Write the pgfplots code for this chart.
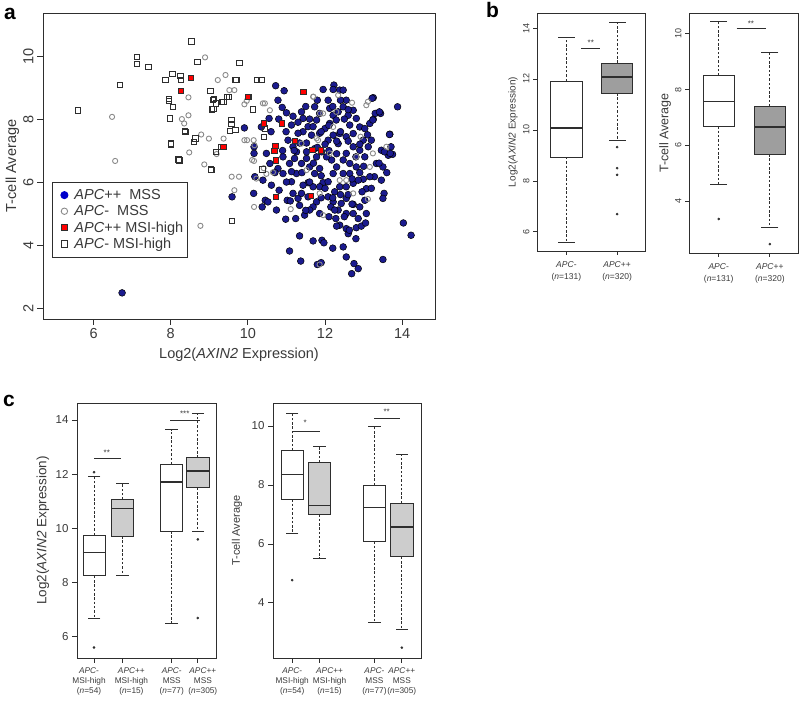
\documentclass[border=0pt]{standalone}
\usepackage{fontspec}
\setmainfont{Liberation Sans}
\usepackage{pgfplots}
\pgfplotsset{compat=1.18}
\usepgfplotslibrary{statistics}
\definecolor{navyb}{HTML}{1B1B8F}
\definecolor{txt}{HTML}{3A3A3A}
\definecolor{grayc}{HTML}{8A8A8A}
\definecolor{boxb}{HTML}{9E9E9E}
\definecolor{boxc}{HTML}{CDCDCD}
\definecolor{axc}{HTML}{2E2E2E}
\newcommand{\tlab}[5]{\hspace*{#1}\begin{tabular}{@{}c@{}}#3\\#4\\#5\end{tabular}\hspace*{#2}}

\pgfplotsset{
  Rbase/.style={scale only axis, axis line style={line width=0.8pt, draw=axc},
    tick align=outside, tick pos=left, major tick length=5pt,
    tick style={line width=0.8pt, draw=axc},
    /pgf/number format/assume math mode=true,
    ticklabel style={text=txt}, label style={text=txt}},
  RboxW/.style={draw=axc, line width=0.8pt,
    boxplot/draw direction=y,
    boxplot/every median/.style={line width=1.6pt},
    boxplot/every whisker/.style={dash pattern=on 2.5pt off 1.8pt},
    boxplot/every box/.style={fill=white}},
  RboxB/.style={RboxW, boxplot/every box/.style={fill=boxb}},
  RboxC/.style={RboxW, boxplot/every box/.style={fill=boxc}},
  outl/.style={only marks, mark=*, mark size=1.1pt, color=axc},
  caps/.style={only marks, mark=-, mark size=#1, mark options={line width=0.8pt, draw=axc}},
}

\begin{document}
\begin{tikzpicture}
\path[use as bounding box] (0,0) rectangle (800pt,701pt);

% panel labels
\node[font=\fontsize{21}{21}\selectfont\bfseries, anchor=base west, inner sep=0pt] at (4pt,681pt) {a};
\node[font=\fontsize{21}{21}\selectfont\bfseries, anchor=base west, inner sep=0pt] at (486pt,683pt) {b};
\node[font=\fontsize{21}{21}\selectfont\bfseries, anchor=base west, inner sep=0pt] at (3pt,294pt) {c};

% ---------------- panel a ----------------
\begin{axis}[Rbase, at={(43pt,382pt)}, anchor=south west, width=392pt, height=306pt,
  xmin=4.69, xmax=14.85, ymin=1.65, ymax=11.37,
  xtick={6,8,10,12,14}, ytick={2,4,6,8,10}, major tick length=6pt,
  ticklabel style={font=\fontsize{14.5}{16}\selectfont},
  yticklabel style={rotate=90, anchor=south},
  xlabel={Log2(\textit{AXIN2} Expression)}, ylabel={T-cell Average},
  label style={font=\fontsize{14.5}{16}\selectfont},
  xlabel style={at={(axis description cs:0.5,-0.118)}, anchor=center},
  ylabel style={at={(axis description cs:-0.078,0.5)}, anchor=center},
  legend style={at={(axis description cs:0.023,0.448)}, anchor=north west, draw=axc,
    line width=0.8pt, font=\fontsize{14.5}{16}\selectfont, text=txt,
    cells={anchor=west}, row sep=0.5pt, inner xsep=2pt, inner ysep=5pt},
  legend image code/.code={\path[draw=none, fill=none] (0pt,0pt) -- (18pt,0pt); \draw[#1] plot coordinates {(10pt,0pt)};},
]
\addlegendimage{only marks, mark=*, mark size=3.6pt, mark options={fill=blue!80!black, draw=blue!80!black}}
\addlegendentry{\textit{APC}++\ \ MSS}
\addlegendimage{only marks, mark=o, mark size=3.2pt, mark options={draw=grayc, line width=0.9pt}}
\addlegendentry{\textit{APC}-\ \ MSS}
\addlegendimage{only marks, mark=square*, mark size=3.2pt, mark options={fill=red, draw=axc, line width=0.9pt}}
\addlegendentry{\textit{APC}++ MSI-high}
\addlegendimage{only marks, mark=square, mark size=3.2pt, mark options={draw=axc, line width=0.9pt}}
\addlegendentry{\textit{APC}- MSI-high}

% APC++ MSS
\addplot[forget plot, only marks, mark=*, mark size=3.4pt, mark options={fill=navyb, draw=black, line width=0.5pt}] table {
6.74 2.48
9.59 5.53
9.91 7.72
10.72 9.06
10.94 8.90
10.78 8.60
10.89 8.37
10.55 8.02
10.35 7.75
10.16 7.12
10.16 6.91
10.18 6.17
10.39 6.06
10.15 5.64
10.37 5.21
10.45 5.42
10.52 5.37
10.74 5.11
10.98 4.82
11.24 4.84
11.34 4.29
11.08 3.81
11.37 3.49
11.69 4.13
11.92 4.15
11.97 4.07
11.80 3.38
11.90 3.44
12.38 4.63
12.55 4.52
12.47 3.94
12.55 3.62
12.60 4.36
12.63 4.47
12.69 3.09
12.86 3.25
12.75 3.41
12.81 4.55
12.94 4.60
13.05 4.70
13.50 3.54
14.03 4.70
14.23 4.31
13.88 8.39
13.25 8.68
13.30 8.18
13.44 8.18
13.25 7.99
13.68 7.52
13.71 7.12
13.75 6.88
13.64 6.85
13.46 7.01
13.50 6.48
13.46 6.06
13.53 5.64
13.50 5.48
13.33 6.59
13.28 6.17
12.99 6.09
13.07 5.79
12.96 5.69
13.03 5.42
13.07 5.00
12.90 5.21
12.73 5.29
12.55 5.48
12.42 5.32
12.34 5.11
12.28 4.84
12.21 5.37
12.08 5.53
12.15 5.21
11.95 5.98
11.78 5.37
11.69 5.21
11.60 5.11
11.86 5.00
11.47 4.95
11.34 5.26
11.30 5.48
11.39 5.64
11.17 5.64
11.02 5.42
10.81 5.74
10.61 5.90
11.13 6.01
11.26 6.27
10.91 6.27
10.78 6.43
10.57 6.59
10.48 6.91
10.91 6.80
11.08 6.59
11.21 6.75
11.39 6.59
11.52 6.75
11.60 6.48
11.73 6.27
11.86 6.43
11.56 5.98
11.43 5.90
11.17 7.12
11.04 7.33
10.99 7.60
11.13 7.81
11.17 8.09
11.39 8.23
11.43 8.02
11.56 7.76
11.43 7.60
11.30 7.55
11.34 7.24
11.52 7.24
11.65 7.49
11.78 7.97
11.73 8.39
11.95 8.94
12.23 9.08
12.21 8.94
12.38 8.92
12.47 8.92
12.08 8.60
12.55 8.60
12.73 8.28
12.60 8.12
12.34 8.23
12.21 8.12
12.29 7.97
12.12 7.86
12.00 7.70
11.86 7.55
12.08 7.33
12.21 7.49
12.38 7.54
12.34 7.22
12.55 7.44
12.73 7.54
12.90 7.75
13.03 7.70
12.99 7.33
13.12 7.12
12.90 7.01
12.73 7.12
12.55 6.91
12.47 6.70
12.64 6.59
12.81 6.48
12.64 6.27
12.47 6.27
12.30 6.48
12.17 6.70
12.04 6.80
11.91 6.96
11.73 7.06
11.78 6.80
12.21 6.27
12.38 5.85
12.55 5.85
12.73 5.96
12.25 5.69
12.08 6.01
11.86 5.85
11.69 5.85
11.56 5.53
11.13 6.33
11.26 6.96
11.52 6.96
11.69 7.76
11.86 8.18
12.12 8.34
12.47 8.39
12.64 7.81
12.81 8.02
13.16 7.86
13.20 7.33
13.03 6.80
13.16 6.17
12.86 6.06
12.73 5.00
12.55 5.00
12.25 5.11
12.86 4.84
13.22 8.66
13.41 8.23
13.24 7.97
13.67 7.51
13.54 6.96
13.69 6.91
11.60 8.00
11.90 7.60
12.00 7.20
12.10 7.00
12.30 6.90
12.40 7.60
12.50 8.00
12.20 8.40
12.40 8.60
12.60 8.30
11.80 7.10
11.70 6.60
11.90 6.20
12.00 5.80
12.20 5.50
12.40 5.60
12.60 5.60
12.70 6.10
12.90 6.30
12.80 6.80
12.60 7.30
12.30 7.30
12.10 7.80
11.80 8.60
11.50 8.40
11.30 7.90
11.20 7.00
11.40 6.30
11.60 6.00
11.90 5.50
12.10 4.90
12.30 4.60
12.50 4.90
12.70 5.30
11.00 6.00
10.90 7.00
10.70 6.30
10.60 7.60
10.80 8.00
11.00 8.20
12.90 7.20
13.10 7.50
13.40 6.60
13.60 6.30
13.20 5.80
13.00 6.50
11.10 5.40
11.50 5.10
12.80 4.20
12.20 3.90
};
% APC- MSS
\addplot[forget plot, only marks, mark=o, mark size=2.6pt, mark options={draw=grayc, line width=0.9pt}] table {
6.48 8.07
6.56 6.67
8.89 9.96
8.46 8.69
8.46 8.12
8.29 8.00
8.35 7.86
8.79 7.51
8.99 7.38
8.87 6.56
8.77 4.61
9.22 9.24
9.42 9.40
9.52 8.92
9.65 8.92
9.97 8.58
9.91 8.47
9.58 6.17
9.77 6.17
9.65 5.74
9.37 7.38
9.91 7.33
10.15 7.33
10.17 7.17
10.16 6.67
10.22 6.11
10.16 5.21
10.44 8.50
10.57 8.28
10.48 6.26
11.11 5.14
11.69 8.71
11.95 8.18
11.95 4.95
11.86 3.38
12.29 8.23
12.34 8.76
12.70 8.52
13.07 8.44
13.11 8.55
12.92 7.44
13.16 6.48
13.11 5.46
13.59 7.12
10.65 6.31
12.38 6.06
12.55 6.06
12.73 5.64
11.52 6.38
11.39 7.22
11.82 7.33
12.12 6.91
12.21 7.75
11.86 5.64
12.81 6.80
13.24 6.91
10.39 8.50
9.98 7.33
10.11 6.70
11.70 8.71
11.87 8.18
11.78 7.39
10.41 6.44
8.48 6.94
9.19 6.89
};
% APC- MSI-high
\addplot[forget plot, only marks, mark=square, mark size=2.7pt, mark options={draw=axc, line width=0.9pt}] table {
5.60 8.28
6.69 9.08
7.13 9.75
7.13 9.98
7.42 9.66
7.86 9.24
8.04 9.43
8.25 9.37
8.27 9.24
8.54 10.47
8.69 9.82
9.78 9.79
9.70 9.24
9.68 9.24
10.35 9.24
7.95 8.63
7.95 8.57
8.06 8.39
7.98 8.02
9.03 8.90
9.09 8.60
9.11 8.32
9.18 8.50
9.37 8.55
9.51 8.71
10.03 8.71
10.13 8.31
9.57 7.97
9.57 7.84
9.53 7.62
9.68 7.65
8.38 7.60
8.64 7.38
8.60 7.28
8.00 7.20
8.23 6.69
9.06 6.38
9.59 4.76
10.42 7.44
10.44 7.70
10.38 6.40
9.31 7.12
9.18 6.96
9.12 8.63
9.33 8.55
9.46 8.71
9.07 8.31
8.20 6.72
9.05 6.40
10.23 9.24
8.00 7.22
8.37 7.62
};
% APC++ MSI-high
\addplot[forget plot, only marks, mark=square*, mark size=2.7pt, mark options={fill=red, draw=axc, line width=0.9pt}] table {
8.53 9.31
8.27 8.90
10.00 8.71
9.37 7.12
10.41 7.86
10.88 7.86
11.44 8.87
11.22 7.30
10.71 7.14
10.69 6.98
10.72 6.68
11.67 7.02
10.73 5.52
11.63 5.56
11.90 7.00
};
\end{axis}

% ---------------- panel b left ----------------
\begin{axis}[Rbase, at={(537pt,450pt)}, anchor=south west, width=108pt, height=238pt,
  xmin=0.42, xmax=2.55, ymin=5.25, ymax=14.59,
  xtick={1,2}, xticklabels={{\textit{APC}-\\(\textit{n}=131)},{\textit{APC}++\\(\textit{n}=320)}},
  xticklabel style={align=center, font=\fontsize{8.5}{12.5}\selectfont, yshift=-3pt},
  ytick={6,8,10,12,14}, major tick length=4pt,
  yticklabel style={rotate=90, anchor=south, font=\fontsize{9}{10}\selectfont},
  ylabel={Log2(\textit{AXIN2} Expression)},
  ylabel style={font=\fontsize{10}{11}\selectfont, at={(axis description cs:-0.222,0.5)}, anchor=center},
]
\addplot[RboxW, boxplot prepared={draw position=1, lower whisker=5.6, lower quartile=8.94, median=10.08, upper quartile=11.92, upper whisker=13.65, box extend=0.62, whisker extend=0}] coordinates {};
\addplot[RboxB, boxplot prepared={draw position=2, lower whisker=9.6, lower quartile=11.45, median=12.08, upper quartile=12.63, upper whisker=14.24, box extend=0.62, whisker extend=0}] coordinates {};
\addplot[caps=8.5pt] coordinates {(1,5.6) (1,13.65) (2,9.6) (2,14.24)};
\addplot[outl] coordinates {(2,9.33) (2,8.5) (2,8.24) (2,6.7)};
\draw[line width=0.8pt, axc] (axis cs:1.29,13.2) -- (axis cs:1.67,13.2);
\node[font=\fontsize{8}{8}\selectfont, text=txt] at (axis cs:1.48,13.42) {**};
\end{axis}

% ---------------- panel b right ----------------
\begin{axis}[Rbase, at={(689pt,448pt)}, anchor=south west, width=109pt, height=240pt,
  xmin=0.42, xmax=2.55, ymin=2.13, ymax=10.75,
  xtick={1,2}, xticklabels={{\textit{APC}-\\(\textit{n}=131)},{\textit{APC}++\\(\textit{n}=320)}},
  xticklabel style={align=center, font=\fontsize{8.5}{12.5}\selectfont, yshift=-3pt},
  ytick={4,6,8,10}, major tick length=4pt,
  yticklabel style={rotate=90, anchor=south, font=\fontsize{9}{10}\selectfont},
  ylabel={T-cell Average},
  ylabel style={font=\fontsize{12.5}{13}\selectfont, at={(axis description cs:-0.22,0.5)}, anchor=center},
]
\addplot[RboxW, boxplot prepared={draw position=1, lower whisker=4.61, lower quartile=6.68, median=7.57, upper quartile=8.5, upper whisker=10.43, box extend=0.6, whisker extend=0}] coordinates {};
\addplot[RboxB, boxplot prepared={draw position=2, lower whisker=3.06, lower quartile=5.68, median=6.65, upper quartile=7.39, upper whisker=9.32, box extend=0.6, whisker extend=0}] coordinates {};
\addplot[caps=8.5pt] coordinates {(1,4.61) (1,10.43) (2,3.06) (2,9.32)};
\addplot[outl] coordinates {(1,3.35) (2,2.45)};
\draw[line width=0.8pt, axc] (axis cs:1.35,10.18) -- (axis cs:1.92,10.18);
\node[font=\fontsize{8}{8}\selectfont, text=txt] at (axis cs:1.63,10.38) {**};
\end{axis}

% ---------------- panel c left ----------------
\begin{axis}[Rbase, at={(77pt,43pt)}, anchor=south west, width=139pt, height=255pt,
  xmin=0.4, xmax=5.3, ymin=5.19, ymax=14.63,
  xtick={1,2,3.74,4.66},
  xticklabels={{\tlab{0pt}{10pt}{\textit{APC}-}{MSI-high}{(\textit{n}=54)}},{\tlab{18pt}{0pt}{\textit{APC}++}{MSI-high}{(\textit{n}=15)}},{\tlab{0pt}{0pt}{\textit{APC}-}{MSS}{(\textit{n}=77)}},{\tlab{10pt}{0pt}{\textit{APC}++}{MSS}{(\textit{n}=305)}}},
  xticklabel style={font=\fontsize{8.3}{10}\selectfont},
  ytick={6,8,10,12,14}, major tick length=5pt,
  yticklabel style={font=\fontsize{11.5}{12}\selectfont},
  ylabel={Log2(\textit{AXIN2} Expression)},
  ylabel style={font=\fontsize{13.5}{14}\selectfont, at={(axis description cs:-0.245,0.5)}, anchor=center},
]
\addplot[RboxW, boxplot prepared={draw position=1, lower whisker=6.67, lower quartile=8.23, median=9.1, upper quartile=9.74, upper whisker=11.91, box extend=0.78, whisker extend=0}] coordinates {};
\addplot[RboxC, boxplot prepared={draw position=2, lower whisker=8.25, lower quartile=9.7, median=10.72, upper quartile=11.05, upper whisker=11.67, box extend=0.78, whisker extend=0}] coordinates {};
\addplot[RboxW, boxplot prepared={draw position=3.74, lower whisker=6.46, lower quartile=9.89, median=11.7, upper quartile=12.36, upper whisker=13.64, box extend=0.78, whisker extend=0}] coordinates {};
\addplot[RboxC, boxplot prepared={draw position=4.66, lower whisker=9.89, lower quartile=11.49, median=12.12, upper quartile=12.6, upper whisker=14.25, box extend=0.78, whisker extend=0}] coordinates {};
\addplot[caps=6.3pt] coordinates {(1,6.67) (1,11.91) (2,8.25) (2,11.67) (3.74,6.46) (3.74,13.64) (4.66,9.89) (4.66,14.25)};
\addplot[outl] coordinates {(1,12.07) (1,5.58) (4.66,9.58) (4.66,6.67)};
\draw[line width=0.8pt, axc] (axis cs:1,12.57) -- (axis cs:1.95,12.57);
\node[font=\fontsize{8}{8}\selectfont, text=txt] at (axis cs:1.45,12.8) {**};
\draw[line width=0.8pt, axc] (axis cs:3.68,13.98) -- (axis cs:4.74,13.98);
\node[font=\fontsize{8}{8}\selectfont, text=txt] at (axis cs:4.2,14.22) {***};
\end{axis}

% ---------------- panel c right ----------------
\begin{axis}[Rbase, at={(273pt,43pt)}, anchor=south west, width=148pt, height=255pt,
  xmin=0.3, xmax=5.7, ymin=2.13, ymax=10.78,
  xtick={1,2,4,5},
  xticklabels={{\tlab{0pt}{0pt}{\textit{APC}-}{MSI-high}{(\textit{n}=54)}},{\tlab{20pt}{0pt}{\textit{APC}++}{MSI-high}{(\textit{n}=15)}},{\tlab{0pt}{0pt}{\textit{APC}-}{MSS}{(\textit{n}=77)}},{\tlab{0pt}{0pt}{\textit{APC}++}{MSS}{(\textit{n}=305)}}},
  xticklabel style={font=\fontsize{8.3}{10}\selectfont},
  ytick={4,6,8,10}, major tick length=5pt,
  yticklabel style={font=\fontsize{11.5}{12}\selectfont},
  ylabel={T-cell Average},
  ylabel style={font=\fontsize{11}{12}\selectfont, at={(axis description cs:-0.243,0.5)}, anchor=center},
]
\addplot[RboxW, boxplot prepared={draw position=1, lower whisker=6.35, lower quartile=7.51, median=8.35, upper quartile=9.17, upper whisker=10.44, box extend=0.82, whisker extend=0}] coordinates {};
\addplot[RboxC, boxplot prepared={draw position=2, lower whisker=5.52, lower quartile=7.0, median=7.3, upper quartile=8.76, upper whisker=9.31, box extend=0.82, whisker extend=0}] coordinates {};
\addplot[RboxW, boxplot prepared={draw position=4, lower whisker=3.34, lower quartile=6.09, median=7.23, upper quartile=7.99, upper whisker=9.97, box extend=0.82, whisker extend=0}] coordinates {};
\addplot[RboxC, boxplot prepared={draw position=5, lower whisker=3.09, lower quartile=5.56, median=6.57, upper quartile=7.38, upper whisker=9.03, box extend=0.82, whisker extend=0}] coordinates {};
\addplot[caps=6.3pt] coordinates {(1,6.35) (1,10.44) (2,5.52) (2,9.31) (4,3.34) (4,9.97) (5,3.09) (5,9.03)};
\addplot[outl] coordinates {(1,4.77) (5,2.48)};
\draw[line width=0.8pt, axc] (axis cs:1,9.83) -- (axis cs:2,9.83);
\node[font=\fontsize{8}{8}\selectfont, text=txt] at (axis cs:1.47,10.1) {*};
\draw[line width=0.8pt, axc] (axis cs:4,10.25) -- (axis cs:4.93,10.25);
\node[font=\fontsize{8}{8}\selectfont, text=txt] at (axis cs:4.45,10.48) {**};
\end{axis}
\end{tikzpicture}
\end{document}
